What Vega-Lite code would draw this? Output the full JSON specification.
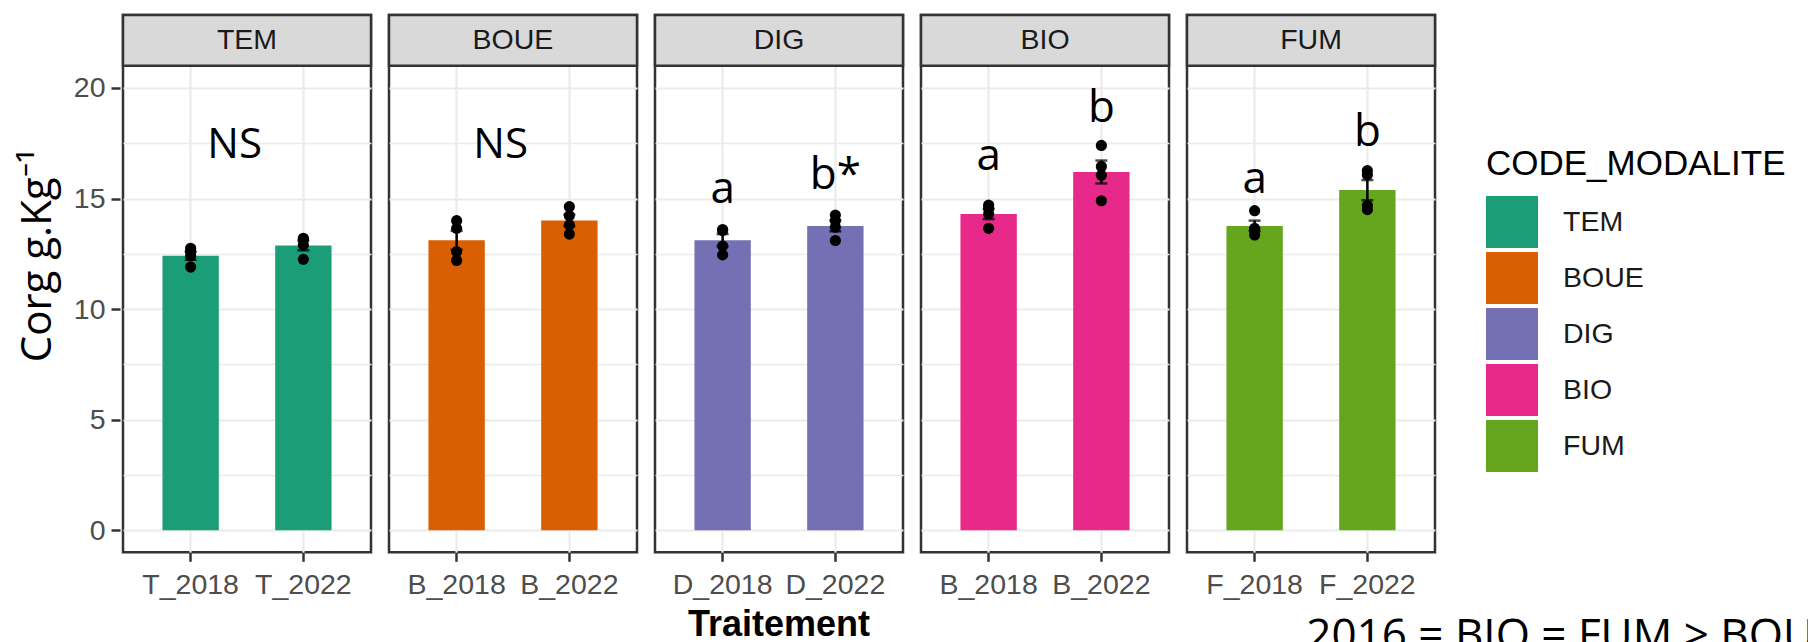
{
  "$schema": "https://vega.github.io/schema/vega-lite/v6.json",
  "background": "white",
  "padding": {"left": 16, "top": 12, "right": 0, "bottom": 0},
  "title": {
    "text": "2016 = BIO = FUM > BOUE",
    "orient": "bottom",
    "anchor": "start",
    "frame": "bounds",
    "font": "Open Sans",
    "fontSize": 44,
    "fontWeight": "normal",
    "color": "black",
    "offset": 0,
    "dx": 1290,
    "dy": -28
  },
  "data": {
    "values": [
      {"CODE_MODALITE": "TEM", "Traitement": "T_2018", "Corg": 12.75},
      {"CODE_MODALITE": "TEM", "Traitement": "T_2018", "Corg": 12.6},
      {"CODE_MODALITE": "TEM", "Traitement": "T_2018", "Corg": 12.4},
      {"CODE_MODALITE": "TEM", "Traitement": "T_2018", "Corg": 11.9},
      {"CODE_MODALITE": "TEM", "Traitement": "T_2022", "Corg": 13.2},
      {"CODE_MODALITE": "TEM", "Traitement": "T_2022", "Corg": 13.15},
      {"CODE_MODALITE": "TEM", "Traitement": "T_2022", "Corg": 12.9},
      {"CODE_MODALITE": "TEM", "Traitement": "T_2022", "Corg": 12.25},
      {"CODE_MODALITE": "BOUE", "Traitement": "B_2018", "Corg": 14.0},
      {"CODE_MODALITE": "BOUE", "Traitement": "B_2018", "Corg": 13.65},
      {"CODE_MODALITE": "BOUE", "Traitement": "B_2018", "Corg": 12.6},
      {"CODE_MODALITE": "BOUE", "Traitement": "B_2018", "Corg": 12.2},
      {"CODE_MODALITE": "BOUE", "Traitement": "B_2022", "Corg": 14.63},
      {"CODE_MODALITE": "BOUE", "Traitement": "B_2022", "Corg": 14.22},
      {"CODE_MODALITE": "BOUE", "Traitement": "B_2022", "Corg": 13.8},
      {"CODE_MODALITE": "BOUE", "Traitement": "B_2022", "Corg": 13.39},
      {"CODE_MODALITE": "DIG", "Traitement": "D_2018", "Corg": 13.6},
      {"CODE_MODALITE": "DIG", "Traitement": "D_2018", "Corg": 13.55},
      {"CODE_MODALITE": "DIG", "Traitement": "D_2018", "Corg": 12.85},
      {"CODE_MODALITE": "DIG", "Traitement": "D_2018", "Corg": 12.45},
      {"CODE_MODALITE": "DIG", "Traitement": "D_2022", "Corg": 14.25},
      {"CODE_MODALITE": "DIG", "Traitement": "D_2022", "Corg": 14.0},
      {"CODE_MODALITE": "DIG", "Traitement": "D_2022", "Corg": 13.7},
      {"CODE_MODALITE": "DIG", "Traitement": "D_2022", "Corg": 13.1},
      {"CODE_MODALITE": "BIO", "Traitement": "B_2018", "Corg": 14.7},
      {"CODE_MODALITE": "BIO", "Traitement": "B_2018", "Corg": 14.55},
      {"CODE_MODALITE": "BIO", "Traitement": "B_2018", "Corg": 14.3},
      {"CODE_MODALITE": "BIO", "Traitement": "B_2018", "Corg": 13.65},
      {"CODE_MODALITE": "BIO", "Traitement": "B_2022", "Corg": 17.4},
      {"CODE_MODALITE": "BIO", "Traitement": "B_2022", "Corg": 16.45},
      {"CODE_MODALITE": "BIO", "Traitement": "B_2022", "Corg": 16.05},
      {"CODE_MODALITE": "BIO", "Traitement": "B_2022", "Corg": 14.9},
      {"CODE_MODALITE": "FUM", "Traitement": "F_2018", "Corg": 14.45},
      {"CODE_MODALITE": "FUM", "Traitement": "F_2018", "Corg": 13.65},
      {"CODE_MODALITE": "FUM", "Traitement": "F_2018", "Corg": 13.6},
      {"CODE_MODALITE": "FUM", "Traitement": "F_2018", "Corg": 13.35},
      {"CODE_MODALITE": "FUM", "Traitement": "F_2022", "Corg": 16.26},
      {"CODE_MODALITE": "FUM", "Traitement": "F_2022", "Corg": 16.07},
      {"CODE_MODALITE": "FUM", "Traitement": "F_2022", "Corg": 14.69},
      {"CODE_MODALITE": "FUM", "Traitement": "F_2022", "Corg": 14.5},
      {"CODE_MODALITE": "TEM", "Traitement": "T_2018", "lettre": "NS", "y_lettre": 16.85},
      {"CODE_MODALITE": "BOUE", "Traitement": "B_2018", "lettre": "NS", "y_lettre": 16.85},
      {"CODE_MODALITE": "DIG", "Traitement": "D_2018", "lettre": "a", "y_lettre": 14.78},
      {"CODE_MODALITE": "DIG", "Traitement": "D_2022", "lettre": "b*", "y_lettre": 15.42},
      {"CODE_MODALITE": "BIO", "Traitement": "B_2018", "lettre": "a", "y_lettre": 16.3},
      {"CODE_MODALITE": "BIO", "Traitement": "B_2022", "lettre": "b", "y_lettre": 18.48},
      {"CODE_MODALITE": "FUM", "Traitement": "F_2018", "lettre": "a", "y_lettre": 15.24},
      {"CODE_MODALITE": "FUM", "Traitement": "F_2022", "lettre": "b", "y_lettre": 17.37}
    ]
  },
  "facet": {
    "column": {
      "field": "CODE_MODALITE",
      "type": "nominal",
      "sort": ["TEM", "BOUE", "DIG", "BIO", "FUM"],
      "header": {
        "labels": false,
        "title": "Traitement",
        "titleOrient": "bottom",
        "titleFont": "Liberation Sans",
        "titleFontSize": 36,
        "titleFontWeight": "bold",
        "titleColor": "black",
        "titlePadding": -3
      }
    }
  },
  "spacing": 12,
  "resolve": {"scale": {"x": "independent"}},
  "spec": {
    "width": 248,
    "height": 537.3,
    "encoding": {
      "x": {
        "field": "Traitement",
        "type": "nominal",
        "scale": {"paddingInner": 0.5, "paddingOuter": 0.35},
        "axis": {
          "title": null,
          "domain": false,
          "grid": true,
          "gridColor": "#EBEBEB",
          "gridWidth": 2.2,
          "tickSize": 9,
          "tickWidth": 2.5,
          "tickColor": "#333333",
          "labelAngle": 0,
          "labelFont": "Liberation Sans",
          "labelFontSize": 28.5,
          "labelColor": "#4D4D4D",
          "labelPadding": 9
        }
      }
    },
    "layer": [
      {
        "transform": [{"filter": "isValid(datum.Corg)"}],
        "mark": {"type": "bar"},
        "encoding": {
          "y": {
            "aggregate": "mean",
            "field": "Corg",
            "type": "quantitative",
            "title": "Corg g.Kg⁻¹",
            "scale": {"domain": [-1, 23.3], "nice": false, "zero": false},
            "axis": {
              "title": "Corg g.Kg⁻¹",
              "titleFont": "Open Sans",
              "titleFontSize": 42,
              "titleFontWeight": "normal",
              "titleColor": "black",
              "titleY": 240,
              "titlePadding": 14,
              "domain": false,
              "values": [0, 2.5, 5, 7.5, 10, 12.5, 15, 17.5, 20],
              "labelExpr": "datum.value % 5 === 0 ? format(datum.value, 'd') : ''",
              "labelFont": "Liberation Sans",
              "labelFontSize": 28.5,
              "labelColor": "#4D4D4D",
              "labelPadding": 6,
              "tickSize": 9,
              "tickWidth": 2.5,
              "tickColor": "#333333",
              "tickOpacity": {"expr": "datum.value % 5 === 0 ? 1 : 0"},
              "grid": true,
              "gridColor": "#EBEBEB",
              "gridWidth": {"expr": "datum.value % 5 === 0 ? 2.2 : 1.4"}
            }
          },
          "color": {
            "field": "CODE_MODALITE",
            "type": "nominal",
            "scale": {
              "domain": ["TEM", "BOUE", "DIG", "BIO", "FUM"],
              "range": ["#1B9E77", "#D95F02", "#7570B3", "#E7298A", "#66A61E"]
            },
            "legend": {
              "orient": "none",
              "legendX": 1363,
              "legendY": 132,
              "title": "CODE_MODALITE",
              "titleLimit": 0,
              "titleFont": "Liberation Sans",
              "titleFontSize": 35,
              "titleFontWeight": "normal",
              "titleColor": "black",
              "titlePadding": 14,
              "labelFont": "Liberation Sans",
              "labelFontSize": 28.5,
              "labelColor": "#1A1A1A",
              "labelOffset": 25,
              "labelLimit": 0,
              "symbolType": "square",
              "symbolSize": 2704,
              "symbolStrokeWidth": 0,
              "symbolOpacity": 1,
              "rowPadding": 4
            }
          }
        }
      },
      {
        "transform": [{"filter": "isValid(datum.Corg)"}],
        "mark": {"type": "errorbar", "extent": "stderr", "color": "black", "thickness": 2.5, "ticks": {"size": 12, "thickness": 2.5, "color": "black"}},
        "encoding": {
          "y": {"field": "Corg", "type": "quantitative", "title": "Corg g.Kg⁻¹"}
        }
      },
      {
        "transform": [{"filter": "isValid(datum.Corg)"}],
        "mark": {"type": "point", "filled": true, "color": "black", "opacity": 1, "size": 125},
        "encoding": {
          "y": {"field": "Corg", "type": "quantitative", "title": "Corg g.Kg⁻¹"}
        }
      },
      {
        "transform": [{"filter": "datum.lettre === 'NS' || datum.lettre === 'a'"}],
        "mark": {"type": "rect", "fill": "#D9D9D9", "stroke": "#333333", "strokeWidth": 2.5},
        "encoding": {
          "x": null,
          "y": {"datum": 21, "type": "quantitative"},
          "y2": {"datum": 23.3}
        }
      },
      {
        "transform": [{"filter": "datum.lettre === 'NS' || datum.lettre === 'a'"}],
        "mark": {"type": "text", "font": "Liberation Sans", "fontSize": 28.5, "color": "#1A1A1A", "baseline": "middle", "align": "center"},
        "encoding": {
          "x": {"field": "Traitement", "type": "nominal", "bandPosition": 1.5},
          "y": {"datum": 22.15, "type": "quantitative"},
          "text": {"field": "CODE_MODALITE"}
        }
      },
      {
        "transform": [{"filter": "datum.lettre === 'NS'"}],
        "mark": {"type": "text", "font": "Open Sans", "fontSize": 42, "color": "black", "baseline": "alphabetic", "align": "center"},
        "encoding": {
          "x": {"field": "Traitement", "type": "nominal", "bandPosition": 1.28},
          "y": {"field": "y_lettre", "type": "quantitative"},
          "text": {"field": "lettre"}
        }
      },
      {
        "transform": [{"filter": "isValid(datum.lettre) && datum.lettre !== 'NS'"}],
        "mark": {"type": "text", "font": "Open Sans", "fontSize": 44, "color": "black", "baseline": "alphabetic", "align": "center"},
        "encoding": {
          "y": {"field": "y_lettre", "type": "quantitative"},
          "text": {"field": "lettre"}
        }
      }
    ]
  },
  "config": {
    "view": {"stroke": "#333333", "strokeWidth": 2.5},
    "axis": {"domain": false}
  }
}
